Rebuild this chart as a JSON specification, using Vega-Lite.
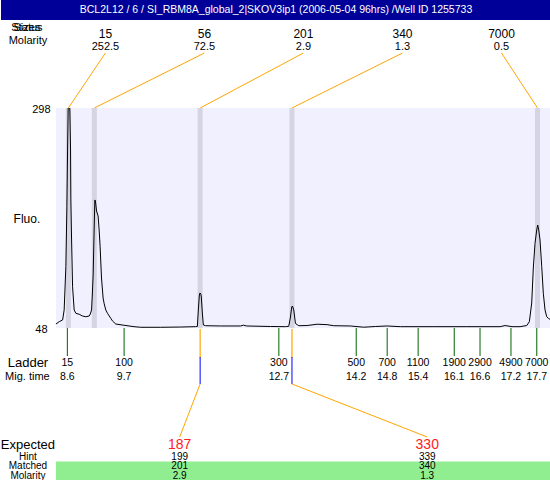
{
  "$schema": "https://vega.github.io/schema/vega-lite/v6.json",
  "padding": 0,
  "spacing": 0,
  "bounds": "flush",
  "background": "white",
  "config": {"view": {"stroke": null}, "text": {"font": "Liberation Sans", "color": "black"}},
  "resolve": {"scale": {"x": "independent", "y": "independent"}},
  "datasets": {
    "peaks": [
      {"size": 15, "molarity": 252.5, "time": 8.6197},
      {"size": 56, "molarity": 72.5, "time": 9.1228},
      {"size": 201, "molarity": 2.9, "time": 11.174},
      {"size": 340, "molarity": 1.3, "time": 12.9543},
      {"size": 7000, "molarity": 0.5, "time": 17.7145}
    ],
    "ladder": [
      {"size": 15, "time": 8.6}, {"size": 100, "time": 9.7}, {"size": 300, "time": 12.7},
      {"size": 500, "time": 14.2}, {"size": 700, "time": 14.8}, {"size": 1100, "time": 15.4},
      {"size": 1900, "time": 16.1}, {"size": 2900, "time": 16.6}, {"size": 4900, "time": 17.2},
      {"size": 7000, "time": 17.7}
    ],
    "matched": [
      {"expected": 187, "hint": 199, "matched": 201, "molarity": 2.9, "time": 11.174},
      {"expected": 330, "hint": 339, "matched": 340, "molarity": 1.3, "time": 12.9543}
    ],
    "trace": [
      {"t": 8.378, "f": 52.5}, {"t": 8.442, "f": 55.2}, {"t": 8.508, "f": 57.1}, {"t": 8.538, "f": 68.5},
      {"t": 8.571, "f": 117.7}, {"t": 8.591, "f": 185.8}, {"t": 8.604, "f": 250.3}, {"t": 8.624, "f": 330},
      {"t": 8.649, "f": 293.5}, {"t": 8.662, "f": 250.3}, {"t": 8.668, "f": 193.5}, {"t": 8.682, "f": 148},
      {"t": 8.701, "f": 94.9}, {"t": 8.732, "f": 68.5}, {"t": 8.765, "f": 64.7}, {"t": 8.829, "f": 63.6},
      {"t": 8.895, "f": 61.6}, {"t": 8.958, "f": 60.8}, {"t": 9.022, "f": 61.6}, {"t": 9.045, "f": 63.9},
      {"t": 9.069, "f": 68.5}, {"t": 9.084, "f": 85.5}, {"t": 9.1, "f": 108.2}, {"t": 9.119, "f": 159.4},
      {"t": 9.133, "f": 193.5}, {"t": 9.144, "f": 192.3}, {"t": 9.166, "f": 181}, {"t": 9.196, "f": 175.3},
      {"t": 9.216, "f": 159.4}, {"t": 9.235, "f": 140.4}, {"t": 9.262, "f": 104.8}, {"t": 9.293, "f": 82.1},
      {"t": 9.312, "f": 76.1}, {"t": 9.345, "f": 68.5}, {"t": 9.378, "f": 64.7}, {"t": 9.442, "f": 59},
      {"t": 9.475, "f": 56}, {"t": 9.539, "f": 52.5}, {"t": 9.7, "f": 51.1}, {"t": 9.893, "f": 49.5},
      {"t": 10.023, "f": 48.8}, {"t": 10.41, "f": 48.8}, {"t": 10.797, "f": 49.1}, {"t": 11.087, "f": 49.5},
      {"t": 11.12, "f": 49.7}, {"t": 11.139, "f": 68.5}, {"t": 11.159, "f": 85.5}, {"t": 11.17, "f": 87.8},
      {"t": 11.188, "f": 86.6}, {"t": 11.197, "f": 83.2}, {"t": 11.217, "f": 65}, {"t": 11.236, "f": 51.4},
      {"t": 11.281, "f": 50.6}, {"t": 11.571, "f": 50.3}, {"t": 11.958, "f": 50.3}, {"t": 12.016, "f": 51.2},
      {"t": 12.074, "f": 50.3}, {"t": 12.538, "f": 49.7}, {"t": 12.828, "f": 49.5}, {"t": 12.892, "f": 49.9},
      {"t": 12.925, "f": 60.5}, {"t": 12.95, "f": 71.9}, {"t": 12.964, "f": 73}, {"t": 12.989, "f": 68.5},
      {"t": 13.022, "f": 53.1}, {"t": 13.086, "f": 50.6}, {"t": 13.248, "f": 50.8}, {"t": 13.442, "f": 52.3},
      {"t": 13.635, "f": 51.8}, {"t": 13.763, "f": 50.6}, {"t": 14.086, "f": 50.3}, {"t": 14.344, "f": 48.9},
      {"t": 14.57, "f": 49.7}, {"t": 14.797, "f": 50.3}, {"t": 15.054, "f": 49.5}, {"t": 15.692, "f": 49.5},
      {"t": 16.345, "f": 49.5}, {"t": 16.989, "f": 49.5}, {"t": 17.086, "f": 50.8}, {"t": 17.221, "f": 49.5},
      {"t": 17.376, "f": 49.5}, {"t": 17.506, "f": 50.8}, {"t": 17.556, "f": 55.2}, {"t": 17.602, "f": 76.4},
      {"t": 17.633, "f": 116.2}, {"t": 17.666, "f": 144.2}, {"t": 17.699, "f": 159.4}, {"t": 17.718, "f": 165},
      {"t": 17.738, "f": 159.4}, {"t": 17.763, "f": 148}, {"t": 17.796, "f": 117.7}, {"t": 17.827, "f": 87.4},
      {"t": 17.86, "f": 68.5}, {"t": 17.893, "f": 60.8}, {"t": 17.924, "f": 59}, {"t": 17.957, "f": 57.9}
    ]
  },
  "vconcat": [
    {
      "width": 550, "height": 20,
      "view": {"fill": "#000099", "stroke": null},
      "data": {"values": [{"title": "BCL2L12 / 6 / SI_RBM8A_global_2|SKOV3ip1 (2006-05-04 96hrs) /Well ID 1255733"}]},
      "mark": {"type": "text", "color": "white", "fontSize": 10.5},
      "encoding": {"text": {"field": "title"}}
    },
    {
      "width": 550, "height": 88,
      "layer": [
        {
          "data": {"values": [{"label": "Status"}, {"label": "Sizes"}]},
          "mark": {"type": "text", "fontSize": 11},
          "encoding": {
            "x": {"datum": 7.817, "scale": {"domain": [7.3136, 17.9758], "nice": false, "zero": false}, "axis": null},
            "y": {"datum": 8, "scale": {"domain": [0, 88], "reverse": true, "nice": false, "zero": false}, "axis": null},
            "text": {"field": "label"}
          }
        },
        {
          "data": {"values": [{"label": "Molarity"}]},
          "mark": {"type": "text", "fontSize": 11},
          "encoding": {
            "x": {"datum": 7.836, "scale": {"domain": [7.3136, 17.9758], "nice": false, "zero": false}, "axis": null},
            "y": {"datum": 21, "scale": {"domain": [0, 88], "reverse": true, "nice": false, "zero": false}, "axis": null},
            "text": {"field": "label"}
          }
        },
        {
          "data": {"name": "peaks"},
          "transform": [
            {"window": [{"op": "row_number", "as": "slot"}], "sort": [{"field": "time"}]},
            {"joinaggregate": [{"op": "count", "as": "n"}]},
            {"calculate": "8.3779 + (datum.slot - 0.5) / datum.n * 9.5979", "as": "labelT"}
          ],
          "layer": [
            {
              "mark": {"type": "text", "fontSize": 12},
              "encoding": {
                "x": {"field": "labelT", "type": "quantitative", "scale": {"domain": [7.3136, 17.9758], "nice": false, "zero": false}, "axis": null},
                "y": {"datum": 13.5, "scale": {"domain": [0, 88], "reverse": true, "nice": false, "zero": false}, "axis": null},
                "text": {"field": "size", "type": "nominal"}
              }
            },
            {
              "mark": {"type": "text", "fontSize": 11},
              "encoding": {
                "x": {"field": "labelT", "type": "quantitative"},
                "y": {"datum": 26.5},
                "text": {"field": "molarity", "type": "nominal"}
              }
            },
            {
              "mark": {"type": "rule", "color": "#FFA500", "strokeWidth": 1},
              "encoding": {
                "x": {"field": "labelT", "type": "quantitative"},
                "x2": {"field": "time"},
                "y": {"datum": 33},
                "y2": {"datum": 88}
              }
            }
          ]
        }
      ]
    },
    {
      "width": 550, "height": 220,
      "layer": [
        {
          "data": {"values": [{}]},
          "mark": {"type": "rect", "color": "#F0F0FF"},
          "encoding": {
            "x": {"datum": 8.3779, "scale": {"domain": [7.3136, 17.9758], "nice": false, "zero": false}, "axis": null},
            "x2": {"datum": 17.9758},
            "y": {"datum": 48, "scale": {"domain": [48, 298], "nice": false, "zero": false}, "axis": null},
            "y2": {"datum": 298}
          }
        },
        {
          "data": {"name": "peaks"},
          "mark": {"type": "rule", "color": "#D4D4E2", "strokeWidth": 5},
          "encoding": {
            "x": {"field": "time", "type": "quantitative"},
            "y": {"datum": 48},
            "y2": {"datum": 298}
          }
        },
        {
          "data": {"name": "trace"},
          "mark": {"type": "line", "color": "black", "strokeWidth": 1, "clip": true},
          "encoding": {
            "x": {"field": "t", "type": "quantitative"},
            "y": {"field": "f", "type": "quantitative"}
          }
        },
        {
          "data": {"values": [{"v": 298}, {"v": 48}]},
          "mark": {"type": "text", "fontSize": 11, "dy": 2},
          "encoding": {
            "x": {"datum": 8.097},
            "y": {"field": "v", "type": "quantitative"},
            "text": {"field": "v", "type": "nominal"}
          }
        },
        {
          "data": {"values": [{"label": "Fluo."}]},
          "mark": {"type": "text", "fontSize": 12},
          "encoding": {
            "x": {"datum": 7.817},
            "y": {"datum": 172},
            "text": {"field": "label"}
          }
        }
      ]
    },
    {
      "width": 550, "height": 107,
      "layer": [
        {
          "data": {"name": "ladder"},
          "mark": {"type": "rule", "color": "#006400", "strokeWidth": 1},
          "encoding": {
            "x": {"field": "time", "type": "quantitative", "scale": {"domain": [7.3136, 17.9758], "nice": false, "zero": false}, "axis": null},
            "y": {"datum": 0, "scale": {"domain": [0, 107], "reverse": true, "nice": false, "zero": false}, "axis": null},
            "y2": {"datum": 28}
          }
        },
        {
          "data": {"name": "matched"},
          "mark": {"type": "rule", "color": "#FFA500", "strokeWidth": 1.2},
          "encoding": {
            "x": {"field": "time", "type": "quantitative"},
            "y": {"datum": 1},
            "y2": {"datum": 30}
          }
        },
        {
          "data": {"name": "ladder"},
          "mark": {"type": "text", "fontSize": 10.5},
          "encoding": {
            "x": {"field": "time", "type": "quantitative"},
            "y": {"datum": 35},
            "text": {"field": "size", "type": "nominal"}
          }
        },
        {
          "data": {"name": "ladder"},
          "mark": {"type": "text", "fontSize": 10.5},
          "encoding": {
            "x": {"field": "time", "type": "quantitative"},
            "y": {"datum": 49},
            "text": {"field": "time", "type": "nominal"}
          }
        },
        {
          "data": {"values": [{"label": "Ladder"}]},
          "mark": {"type": "text", "fontSize": 13},
          "encoding": {
            "x": {"datum": 7.836},
            "y": {"datum": 35},
            "text": {"field": "label"}
          }
        },
        {
          "data": {"values": [{"label": "Mig. time"}]},
          "mark": {"type": "text", "fontSize": 11},
          "encoding": {
            "x": {"datum": 7.826},
            "y": {"datum": 49},
            "text": {"field": "label"}
          }
        },
        {
          "data": {"name": "matched"},
          "transform": [
            {"window": [{"op": "row_number", "as": "slot"}], "sort": [{"field": "time"}]},
            {"joinaggregate": [{"op": "count", "as": "n"}]},
            {"calculate": "8.3779 + (datum.slot - 0.5) / datum.n * 9.5979", "as": "labelT"}
          ],
          "layer": [
            {
              "mark": {"type": "rule", "color": "#0000FF", "strokeWidth": 1},
              "encoding": {
                "x": {"field": "time", "type": "quantitative"},
                "y": {"datum": 29},
                "y2": {"datum": 56}
              }
            },
            {
              "mark": {"type": "rule", "color": "#FFA500", "strokeWidth": 1},
              "encoding": {
                "x": {"field": "time", "type": "quantitative"},
                "x2": {"field": "labelT"},
                "y": {"datum": 56},
                "y2": {"datum": 109}
              }
            }
          ]
        }
      ]
    },
    {
      "width": 550, "height": 45,
      "layer": [
        {
          "data": {"values": [{}]},
          "mark": {"type": "rect", "color": "#90EE90"},
          "encoding": {
            "x": {"datum": 8.3779, "scale": {"domain": [7.3136, 17.9758], "nice": false, "zero": false}, "axis": null},
            "x2": {"datum": 17.9758},
            "y": {"datum": 26.6, "scale": {"domain": [0, 45], "reverse": true, "nice": false, "zero": false}, "axis": null},
            "y2": {"datum": 45}
          }
        },
        {
          "data": {"values": [{"label": "Expected"}]},
          "mark": {"type": "text", "fontSize": 13},
          "encoding": {"x": {"datum": 7.836}, "y": {"datum": 9.5}, "text": {"field": "label"}}
        },
        {
          "data": {"values": [{"label": "Hint"}]},
          "mark": {"type": "text", "fontSize": 10},
          "encoding": {"x": {"datum": 7.836}, "y": {"datum": 21.5}, "text": {"field": "label"}}
        },
        {
          "data": {"values": [{"label": "Matched"}]},
          "mark": {"type": "text", "fontSize": 10},
          "encoding": {"x": {"datum": 7.836}, "y": {"datum": 31.3}, "text": {"field": "label"}}
        },
        {
          "data": {"values": [{"label": "Molarity"}]},
          "mark": {"type": "text", "fontSize": 10},
          "encoding": {"x": {"datum": 7.836}, "y": {"datum": 41.3}, "text": {"field": "label"}}
        },
        {
          "data": {"name": "matched"},
          "transform": [
            {"window": [{"op": "row_number", "as": "slot"}], "sort": [{"field": "time"}]},
            {"joinaggregate": [{"op": "count", "as": "n"}]},
            {"calculate": "8.3779 + (datum.slot - 0.5) / datum.n * 9.5979", "as": "labelT"}
          ],
          "layer": [
            {
              "mark": {"type": "text", "fontSize": 14, "color": "#FF2020"},
              "encoding": {"x": {"field": "labelT", "type": "quantitative"}, "y": {"datum": 9.5}, "text": {"field": "expected", "type": "nominal"}}
            },
            {
              "mark": {"type": "text", "fontSize": 10},
              "encoding": {"x": {"field": "labelT", "type": "quantitative"}, "y": {"datum": 21.5}, "text": {"field": "hint", "type": "nominal"}}
            },
            {
              "mark": {"type": "text", "fontSize": 10},
              "encoding": {"x": {"field": "labelT", "type": "quantitative"}, "y": {"datum": 31.3}, "text": {"field": "matched", "type": "nominal"}}
            },
            {
              "mark": {"type": "text", "fontSize": 10},
              "encoding": {"x": {"field": "labelT", "type": "quantitative"}, "y": {"datum": 41.3}, "text": {"field": "molarity", "type": "nominal"}}
            }
          ]
        }
      ]
    }
  ]
}
